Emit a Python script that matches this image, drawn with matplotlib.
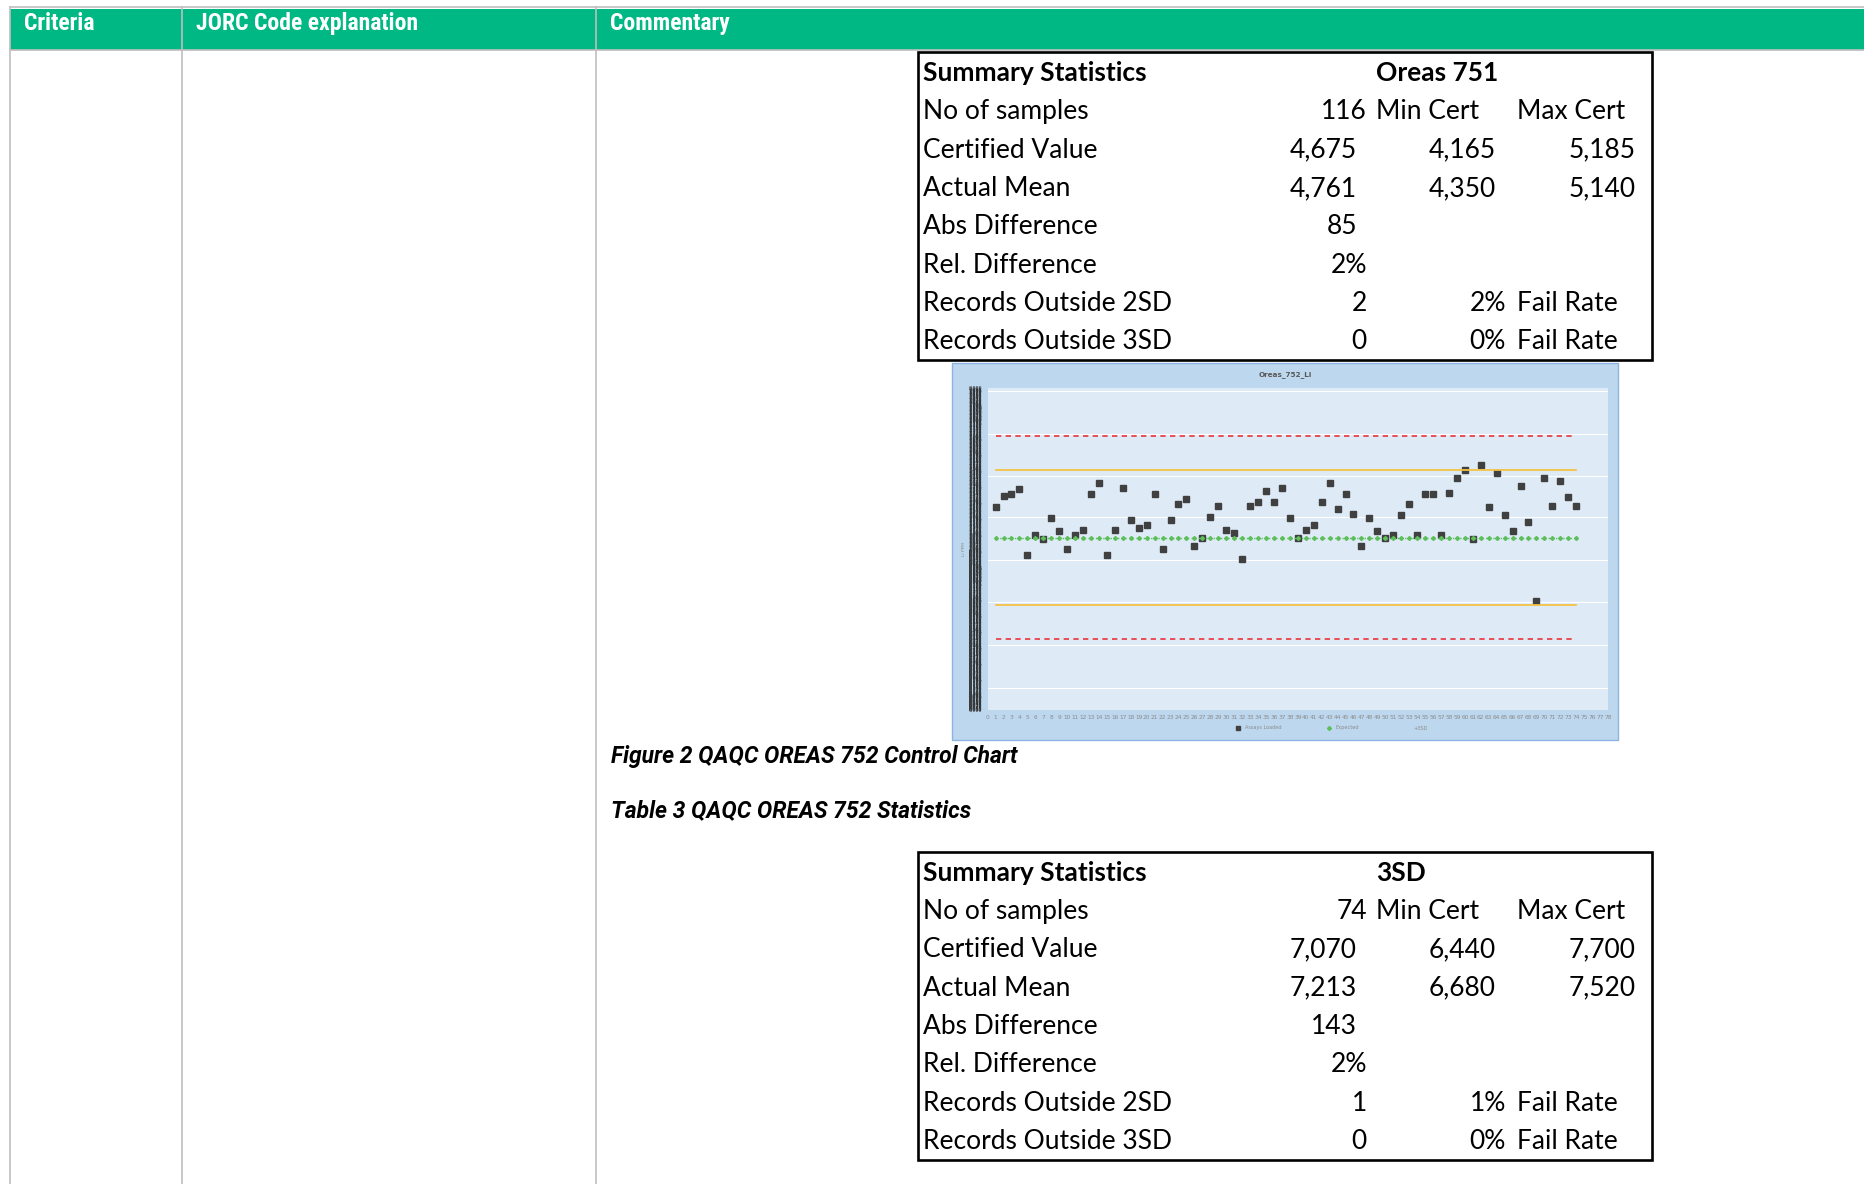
import matplotlib
matplotlib.use("Agg")
import matplotlib.pyplot as plt
from matplotlib.patches import Rectangle
from matplotlib.lines import Line2D
import numpy as np

# ------------------------------------------------------------------ data
header_cols = ["Criteria", "JORC Code explanation", "Commentary"]

stat_labels = ["No of samples", "Certified Value", "Actual Mean", "Abs Difference",
               "Rel. Difference", "Records Outside 2SD", "Records Outside 3SD"]

t1_title = "Oreas 751"
t1_col2 = ["116", "4,675", "4,761", "85", "2%", "2", "0"]
t1_col3 = ["Min Cert", "4,165", "4,350", "", "", "2%", "0%"]
t1_col4 = ["Max Cert", "5,185", "5,140", "", "", "Fail Rate", "Fail Rate"]

t2_title = "3SD"
t2_col2 = ["74", "7,070", "7,213", "143", "2%", "1", "0"]
t2_col3 = ["Min Cert", "6,440", "6,680", "", "", "1%", "0%"]
t2_col4 = ["Max Cert", "7,700", "7,520", "", "", "Fail Rate", "Fail Rate"]

caption_fig = "Figure 2 QAQC OREAS 752 Control Chart"
caption_tab = "Table 3 QAQC OREAS 752 Statistics"

chart_title = "Oreas_752_Li"
y_label = "Li PPM"
legend_labels = ["Assays Loaded", "Expected", "+3SD"]
sample_no = list(range(1, 75))
li_ppm = [7260, 7330, 7340, 7370, 6960, 7090, 7060, 7190, 7110, 7000,
          7090, 7120, 7340, 7410, 6960, 7120, 7380, 7180, 7130, 7150,
          7340, 7000, 7180, 7280, 7310, 7020, 7070, 7200, 7270, 7120,
          7100, 6940, 7270, 7290, 7360, 7290, 7380, 7190, 7070, 7120,
          7150, 7290, 7410, 7250, 7340, 7220, 7020, 7190, 7110, 7070,
          7090, 7210, 7280, 7090, 7340, 7340, 7090, 7350, 7440, 7490,
          7060, 7520, 7260, 7470, 7210, 7110, 7390, 7170, 6680, 7440,
          7270, 7420, 7320, 7270]
expected_ppm = 7070
sd2_hi, sd2_lo = 7490, 6650
sd3_hi, sd3_lo = 7700, 6440
grid_ppm = [6138, 6403, 6668, 6933, 7198, 7452, 7716, 7981]
y_range = (6000, 8000)
x_ticks = list(range(0, 79))
y_ticks = list(range(6000, 8001, 5))

# ------------------------------------------------------------------ page
W_PX, H_PX = 1865, 1184
fig = plt.figure(figsize=(W_PX / 100, H_PX / 100), dpi=100)
fig.patch.set_facecolor("white")
pg = fig.add_axes([0, 0, 1, 1])
pg.set_xlim(0, W_PX)
pg.set_ylim(H_PX, 0)
pg.axis("off")

GREEN = "#00B884"
GRID = "#BFBFBF"

# header band
pg.add_patch(Rectangle((10, 8.5), W_PX - 10, 41, facecolor=GREEN, edgecolor="none", zorder=1))
pg.plot([10, W_PX], [7, 7], color=GRID, lw=1.2, zorder=2)
pg.plot([10, W_PX], [50, 50], color=GRID, lw=1.2, zorder=2)
for xv in (10, 182, 596):
    pg.plot([xv, xv], [7, H_PX], color=GRID, lw=1.2, zorder=2)

hdr_font = ["Roboto Condensed", "Roboto", "DejaVu Sans"]
for txt, xv in zip(header_cols, (24, 196, 610)):
    pg.text(xv, 23.5, txt, color="white", fontsize=17, fontweight="bold",
            family=hdr_font, va="center", ha="left", zorder=3)

# stat tables
TFONT = ["Lato", "DejaVu Sans"]
TSIZE = 19


def draw_table(top, title, col2, col3, col4):
    pg.add_patch(Rectangle((918, top), 733.5, 308.5, facecolor="none",
                           edgecolor="black", lw=1.9, zorder=3))
    row0 = top + 21.6
    step = 38.35
    pg.text(923, row0, "Summary Statistics", fontsize=TSIZE, fontweight="bold",
            family=TFONT, va="center", ha="left")
    pg.text(1376.5, row0, title, fontsize=TSIZE, fontweight="bold",
            family=TFONT, va="center", ha="left")
    for i, lab in enumerate(stat_labels):
        y = row0 + step * (i + 1)
        pg.text(923, y, lab, fontsize=TSIZE, family=TFONT, va="center", ha="left")
        x2 = 1357 if i in (1, 2, 3) else 1367
        pg.text(x2, y, col2[i], fontsize=TSIZE, family=TFONT, va="center", ha="right")
        c3 = col3[i]
        if c3:
            if i == 0:
                pg.text(1376.5, y, c3, fontsize=TSIZE, family=TFONT, va="center", ha="left")
            else:
                x3 = 1506 if c3.endswith("%") else 1496
                pg.text(x3, y, c3, fontsize=TSIZE, family=TFONT, va="center", ha="right")
        c4 = col4[i]
        if c4:
            if c4[0].isdigit():
                pg.text(1636, y, c4, fontsize=TSIZE, family=TFONT, va="center", ha="right")
            else:
                pg.text(1516.7, y, c4, fontsize=TSIZE, family=TFONT, va="center", ha="left")


draw_table(51.7, t1_title, t1_col2, t1_col3, t1_col4)
draw_table(851.6, t2_title, t2_col2, t2_col3, t2_col4)

# captions
CAPFONT = ["Roboto", "DejaVu Sans"]
pg.text(611, 757, caption_fig, fontsize=16.5, fontweight="bold", style="italic",
        family=CAPFONT, va="center", ha="left")
pg.text(611, 811, caption_tab, fontsize=16.5, fontweight="bold", style="italic",
        family=CAPFONT, va="center", ha="left")

# ------------------------------------------------------------------ chart image
pg.add_patch(Rectangle((952, 363), 666, 377, facecolor="#BDD7EE",
                       edgecolor="#8EB4E3", lw=1.0, zorder=3))
pg.text(1285, 375, chart_title, fontsize=5.2, color="#595959", fontweight="bold",
        va="center", ha="center", zorder=4)

L, R, T, B = 987.6, 1608.0, 388.0, 710.0
axc = fig.add_axes([L / W_PX, 1 - B / H_PX, (R - L) / W_PX, (B - T) / H_PX])
axc.set_zorder(5)
axc.set_facecolor("#DEEBF7")
axc.set_xlim(0, 78)
axc.set_ylim(*y_range)
for sp in axc.spines.values():
    sp.set_visible(False)
for g in grid_ppm:
    axc.axhline(g, color="white", lw=0.8, zorder=1)

axc.plot(sample_no, li_ppm, ls="none", marker="s", ms=4.6, color="#404040",
         mec="#404040", zorder=3, label=legend_labels[0])
xs = [sample_no[0], sample_no[-1]]
axc.plot(xs, [sd3_hi, sd3_hi], color="#E8353B", lw=1.2, ls=(0, (3.2, 2.6)), zorder=4)
axc.plot(xs, [sd3_lo, sd3_lo], color="#E8353B", lw=1.2, ls=(0, (3.2, 2.6)), zorder=4)
axc.plot(xs, [sd2_hi, sd2_hi], color="#F5C342", lw=1.3, zorder=4)
axc.plot(xs, [sd2_lo, sd2_lo], color="#F5C342", lw=1.3, zorder=4)
axc.plot(sample_no, [expected_ppm] * len(sample_no), ls=":", lw=1.0, color="#5CBF5A",
         marker="D", ms=2.0, zorder=5)

axc.set_xticks(x_ticks)
axc.set_xticklabels([str(v) for v in x_ticks], fontsize=4.2, color="#8C8C8C")
axc.set_yticks(y_ticks)
axc.set_yticklabels([f"{v:,}" for v in y_ticks], fontsize=3.4, color="#2E2E2E")
axc.tick_params(axis="both", length=0)
axc.tick_params(axis="x", pad=3.6)
axc.tick_params(axis="y", pad=3.8)
axc.set_ylabel(y_label, fontsize=3.2, color="#8C8C8C", labelpad=1.5)

handles = [Line2D([], [], ls="none", marker="s", ms=2.2, color="#404040"),
           Line2D([], [], ls="none", marker="D", ms=2.0, color="#5CBF5A"),
           Line2D([], [], ls="none")]
axc.legend(handles, legend_labels, ncol=3, frameon=False, fontsize=3.6,
           labelcolor="#8C8C8C", loc="center left",
           bbox_to_anchor=((1236 - L) / (R - L), -(728 - B) / (B - T)),
           handlelength=1.0, handletextpad=0.8, columnspacing=9.0,
           borderpad=0, borderaxespad=0)

fig.savefig("out.png", dpi=100, facecolor="white")
